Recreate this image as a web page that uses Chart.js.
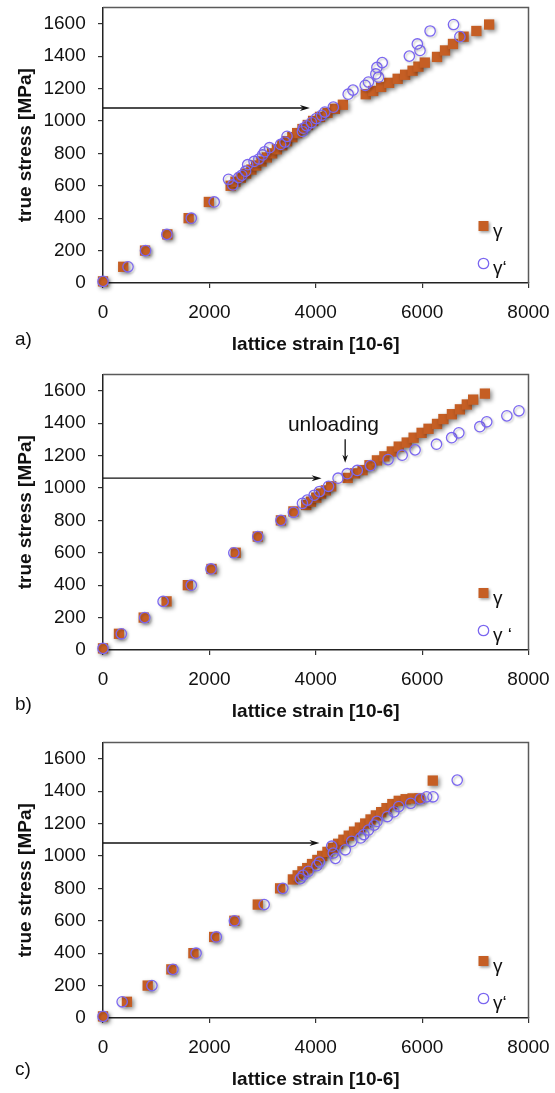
<!DOCTYPE html>
<html>
<head>
<meta charset="utf-8">
<script src="https://cdn.jsdelivr.net/npm/chart.js@4.4.1/dist/chart.umd.min.js"></script>
<style>
html, body { margin: 0; padding: 0; background: #fff; overflow: hidden; }
.panel { position: absolute; left: 0; width: 555px; height: 368px; }
</style>
</head>
<body>
<div class="panel" style="top:1px"><canvas id="chartA"></canvas></div>
<div class="panel" style="top:368px"><canvas id="chartB"></canvas></div>
<div class="panel" style="top:736px"><canvas id="chartC"></canvas></div>
<script>
// tick labels
var strainTicks = [0, 2000, 4000, 6000, 8000]
var stressTicks = [0, 200, 400, 600, 800, 1000, 1200, 1400, 1600]

// panel a) gamma (squares) and gamma' (circles)
var aGammaStrain = [0, 380, 790, 1210, 1610, 1990, 2400, 2490, 2590, 2690, 2790, 2880, 2980, 3080, 3180, 3270, 3370, 3460, 3560, 3650, 3750, 3850, 3950, 4080, 4220, 4360, 4510, 4940, 5080, 5230, 5380, 5540, 5680, 5820, 5930, 6050, 6280, 6430, 6580, 6780, 7020, 7260]
var aGammaStress = [10, 100, 200, 300, 400, 500, 600, 625, 650, 675, 700, 725, 750, 775, 800, 825, 850, 875, 900, 925, 950, 975, 1000, 1025, 1050, 1075, 1100, 1165, 1185, 1210, 1235, 1260, 1285, 1310, 1335, 1360, 1395, 1435, 1475, 1520, 1555, 1595]
var aPrimeStrain = [0, 470, 800, 1200, 1660, 2090, 2440, 2360, 2550, 2610, 2680, 2720, 2840, 2930, 3000, 3040, 3130, 3340, 3420, 3460, 3750, 3770, 3830, 3920, 4010, 4110, 4170, 4330, 4610, 4700, 4930, 4990, 5130, 5180, 5150, 5250, 5760, 5910, 5960, 6150, 6590, 6710]
var aPrimeStress = [10, 100, 200, 300, 400, 500, 605, 640, 650, 665, 690, 730, 750, 765, 790, 810, 835, 855, 870, 905, 935, 955, 970, 990, 1015, 1035, 1055, 1085, 1165, 1190, 1220, 1240, 1290, 1270, 1330, 1360, 1400, 1475, 1435, 1555, 1595, 1520]

// panel b)
var bGammaStrain = [0, 300, 765, 1195, 1595, 2040, 2495, 2910, 3345, 3580, 3820, 3910, 4010, 4100, 4190, 4290, 4600, 4740, 4880, 5010, 5150, 5290, 5430, 5560, 5710, 5840, 5990, 6120, 6280, 6400, 6560, 6710, 6840, 6960, 7180]
var bGammaStress = [10, 100, 200, 300, 400, 500, 600, 700, 800, 855, 895, 915, 940, 965, 985, 1010, 1062, 1090, 1110, 1140, 1170, 1195, 1225, 1255, 1280, 1310, 1340, 1365, 1395, 1425, 1455, 1485, 1515, 1545, 1582]
var bPrimeStrain = [0, 345, 785, 1130, 1660, 2030, 2460, 2910, 3345, 3580, 3750, 3840, 3970, 4070, 4240, 4420, 4590, 4780, 5030, 5360, 5625, 5868, 6270, 6555, 6690, 7085, 7215, 7593, 7820]
var bPrimeStress = [10, 100, 200, 300, 400, 500, 600, 700, 800, 850, 905, 925, 955, 978, 1010, 1060, 1088, 1108, 1138, 1175, 1202, 1235, 1270, 1310, 1340, 1378, 1408, 1445, 1476]

// panel c)
var cGammaStrain = [0, 450, 840, 1285, 1700, 2090, 2470, 2910, 3330, 3570, 3660, 3750, 3840, 3930, 4030, 4120, 4220, 4320, 4420, 4520, 4620, 4720, 4830, 4930, 5030, 5130, 5230, 5330, 5440, 5560, 5690, 5820, 5950, 6200]
var cGammaStress = [10, 100, 200, 300, 400, 500, 600, 700, 800, 855, 880, 905, 925, 950, 975, 1000, 1025, 1050, 1075, 1100, 1125, 1150, 1175, 1200, 1225, 1250, 1270, 1295, 1320, 1340, 1350, 1355, 1355, 1465]
var cPrimeStrain = [0, 360, 920, 1315, 1750, 2130, 2470, 3030, 3380, 3710, 3760, 3860, 4020, 4070, 4300, 4330, 4370, 4555, 4675, 4845, 4905, 4990, 5100, 5150, 5345, 5470, 5560, 5785, 5965, 6085, 6205, 6660]
var cPrimeStress = [10, 100, 200, 300, 400, 500, 600, 700, 800, 860, 880, 905, 940, 962, 1060, 1018, 985, 1038, 1090, 1111, 1132, 1160, 1190, 1213, 1243, 1272, 1305, 1325, 1352, 1365, 1365, 1468]

// horizontal arrows (stress level, tip strain)
var arrowStress = [1080, 1060, 1080]
var arrowTip = [3890, 4110, 4070]

var FONT = '"Liberation Sans", Arial, Helvetica, sans-serif'
var SQUARE = '#C55E24'
var CIRCLE = '#7B67F0'

function pts(xs, ys) {
  return xs.map(function(v, i) { return {x: v, y: ys[i]} })
}

function plain(v) { return String(v) }

function arrow(ctx, x0, y0, x1, y1, len, half) {
  var ang = Math.atan2(y1 - y0, x1 - x0)
  var c = Math.cos(ang), s = Math.sin(ang)
  ctx.beginPath()
  ctx.moveTo(x0, y0)
  ctx.lineTo(x1 - c * len * 0.7, y1 - s * len * 0.7)
  ctx.stroke()
  ctx.beginPath()
  ctx.moveTo(x1, y1)
  ctx.lineTo(x1 - c * len - s * half, y1 - s * len + c * half)
  ctx.lineTo(x1 - c * len * 0.7, y1 - s * len * 0.7)
  ctx.lineTo(x1 - c * len + s * half, y1 - s * len - c * half)
  ctx.closePath()
  ctx.fill()
}

var decor = {
  id: 'decor',
  beforeDatasetsDraw: function(chart, args, o) {
    var ctx = chart.ctx, a = chart.chartArea, x = chart.scales.x, y = chart.scales.y
    ctx.save()
    // box on top and right
    ctx.strokeStyle = '#5a5a5a'
    ctx.lineWidth = 1.5
    ctx.beginPath()
    ctx.moveTo(a.left, a.top)
    ctx.lineTo(a.right, a.top)
    ctx.lineTo(a.right, a.bottom)
    ctx.stroke()
    // arrow
    ctx.strokeStyle = '#111'
    ctx.fillStyle = '#111'
    ctx.lineWidth = 1.3
    var ay = y.getPixelForValue(o.arrowStress)
    arrow(ctx, x.getPixelForValue(0), ay, x.getPixelForValue(o.arrowTip), ay, 10, 3)
    if (o.unload) {
      var ux = x.getPixelForValue(o.unload.strain)
      arrow(ctx, ux, y.getPixelForValue(o.unload.from), ux, y.getPixelForValue(o.unload.to), 8, 2.8)
      ctx.font = '21px ' + FONT
      ctx.textAlign = 'center'
      ctx.textBaseline = 'middle'
      ctx.fillText(o.unload.text, x.getPixelForValue(o.unload.textStrain), y.getPixelForValue(o.unload.textStress))
    }
    ctx.restore()
  },
  beforeDatasetDraw: function(chart, args) {
    var ctx = chart.ctx
    ctx.save()
    if (args.index === 1) {
      ctx.shadowColor = 'rgba(0,0,0,0.45)'
      ctx.shadowBlur = 4
      ctx.shadowOffsetX = 2
      ctx.shadowOffsetY = 2
    } else {
      ctx.shadowColor = 'rgba(0,0,0,0.22)'
      ctx.shadowBlur = 2
      ctx.shadowOffsetX = 1.5
      ctx.shadowOffsetY = 1.5
    }
  },
  afterDatasetDraw: function(chart) {
    chart.ctx.restore()
  },
  afterDraw: function(chart, args, o) {
    var ctx = chart.ctx, a = chart.chartArea
    ctx.save()
    var lx = a.right - 45
    var ly1 = a.bottom - 57, ly2 = a.bottom - 19.5
    ctx.shadowColor = 'rgba(0,0,0,0.4)'
    ctx.shadowBlur = 3
    ctx.shadowOffsetX = 1.5
    ctx.shadowOffsetY = 1.5
    ctx.fillStyle = SQUARE
    ctx.fillRect(lx - 5, ly1 - 5, 10, 10)
    ctx.shadowColor = 'rgba(0,0,0,0)'
    ctx.strokeStyle = CIRCLE
    ctx.lineWidth = 1.3
    ctx.beginPath()
    ctx.arc(lx, ly2, 5.2, 0, Math.PI * 2)
    ctx.stroke()
    ctx.fillStyle = '#111'
    ctx.font = '19px ' + FONT
    ctx.textAlign = 'left'
    ctx.textBaseline = 'alphabetic'
    ctx.fillText('γ', lx + 9.5, ly1 + 10.5)
    ctx.fillText(o.primeLabel, lx + 9.5, ly2 + 10.5)
    // panel letter
    ctx.textBaseline = 'middle'
    ctx.fillText(o.letter, 15, a.bottom + o.letterDy)
    ctx.restore()
  }
}

function makeChart(id, gx, gy, px, py, extra) {
  var ctx = document.getElementById(id).getContext('2d')
  return new Chart(ctx, {
    type: 'scatter',
    data: {
      datasets: [{
        label: 'γ‘',
        data: pts(px, py),
        pointStyle: 'circle',
        pointRadius: 5.2,
        pointHoverRadius: 5.2,
        borderColor: CIRCLE,
        backgroundColor: 'rgba(0,0,0,0)',
        borderWidth: 1.3,
        clip: false
      }, {
        label: 'γ',
        data: pts(gx, gy),
        pointStyle: 'rect',
        pointRadius: 7.3,
        pointHoverRadius: 7.3,
        backgroundColor: SQUARE,
        borderColor: SQUARE,
        borderWidth: 0,
        clip: false
      }]
    },
    options: {
      responsive: true,
      maintainAspectRatio: false,
      animation: false,
      events: [],
      layout: { autoPadding: false, padding: { top: 6.5, right: 26.5, left: 0, bottom: 0 } },
      plugins: {
        legend: { display: false },
        tooltip: { enabled: false },
        decor: extra
      },
      scales: {
        x: {
          type: 'linear',
          min: 0,
          max: 8000,
          afterBuildTicks: function(s) { s.ticks = strainTicks.map(function(v) { return {value: v} }) },
          afterFit: function(s) { s.height = 86; s.paddingLeft = 0; s.paddingRight = 0 },
          ticks: { font: { family: FONT, size: 19 }, color: '#111', padding: 13.6, maxRotation: 0, callback: plain },
          grid: { display: true, drawOnChartArea: false, drawTicks: true, tickLength: 5, color: '#333', lineWidth: 1.2 },
          border: { display: true, color: '#222', width: 1.5 },
          title: { display: true, text: 'lattice strain [10-6]', color: '#111',
            font: { family: FONT, size: 19, weight: 'bold' }, padding: { top: 0, bottom: 12.6 } }
        },
        y: {
          type: 'linear',
          min: 0,
          max: 1700,
          afterBuildTicks: function(s) { s.ticks = stressTicks.map(function(v) { return {value: v} }) },
          afterFit: function(s) { s.width = 103; s.paddingTop = 0; s.paddingBottom = 0 },
          ticks: { font: { family: FONT, size: 19 }, color: '#111', padding: 12.3, callback: plain },
          grid: { display: true, drawOnChartArea: false, drawTicks: true, tickLength: 5, color: '#333', lineWidth: 1.2 },
          border: { display: true, color: '#222', width: 1.5 },
          title: { display: true, text: 'true stress [MPa]', color: '#111',
            font: { family: FONT, size: 19, weight: 'bold' }, padding: { top: 14, bottom: 0 } }
        }
      }
    },
    plugins: [decor]
  })
}

makeChart('chartA', aGammaStrain, aGammaStress, aPrimeStrain, aPrimeStress,
  { arrowStress: arrowStress[0], arrowTip: arrowTip[0], letter: 'a)', letterDy: 57, primeLabel: 'γ‘' })
makeChart('chartB', bGammaStrain, bGammaStress, bPrimeStrain, bPrimeStress,
  { arrowStress: arrowStress[1], arrowTip: arrowTip[1], letter: 'b)', letterDy: 55, primeLabel: 'γ ‘',
    unload: { text: 'unloading', strain: 4553, from: 1300, to: 1155, textStrain: 4333, textStress: 1387 } })
makeChart('chartC', cGammaStrain, cGammaStress, cPrimeStrain, cPrimeStress,
  { arrowStress: arrowStress[2], arrowTip: arrowTip[2], letter: 'c)', letterDy: 52, primeLabel: 'γ‘' })
</script>
</body>
</html>
